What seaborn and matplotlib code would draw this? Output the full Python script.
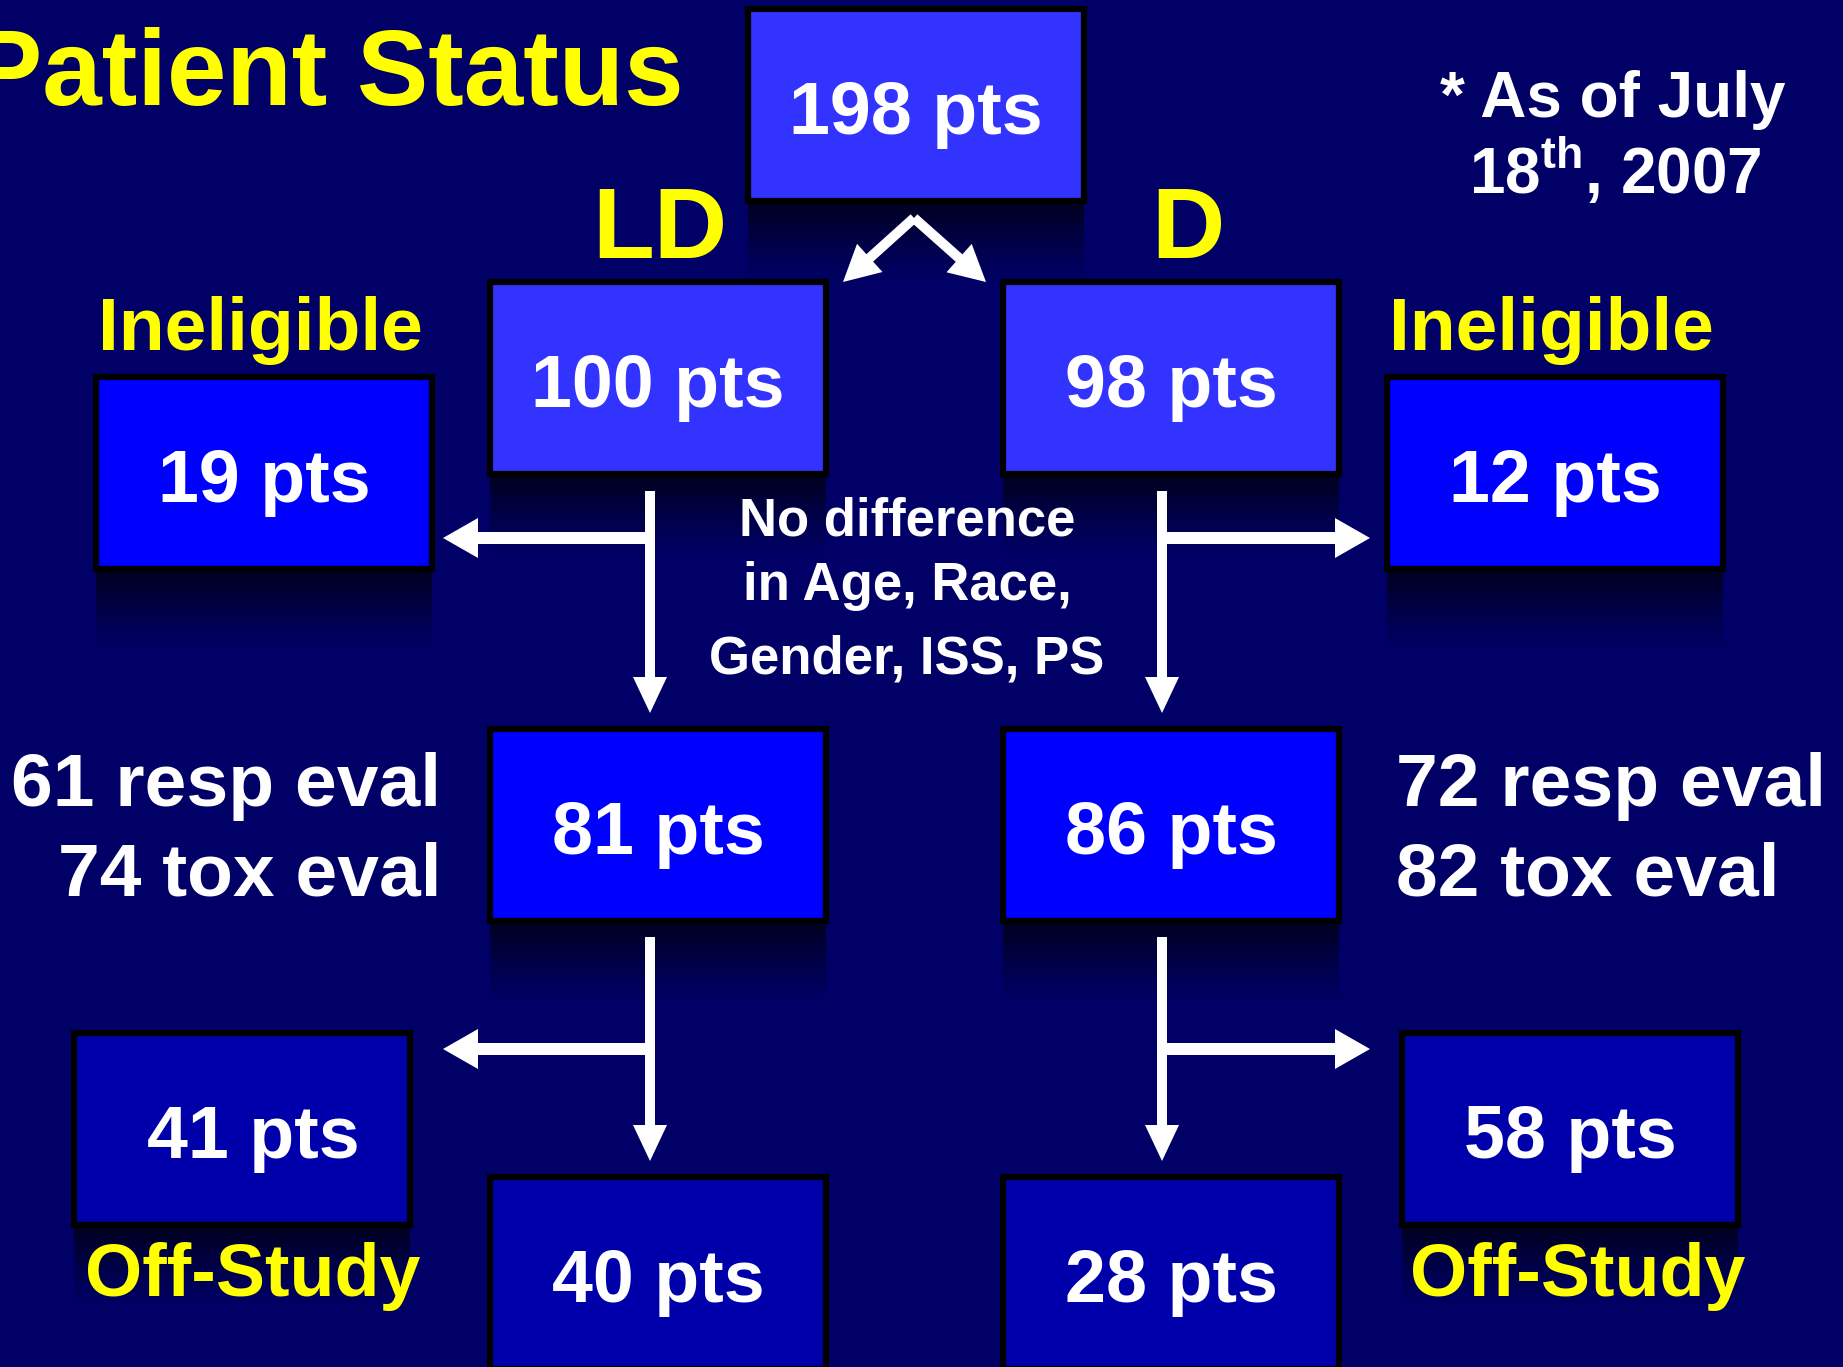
import matplotlib
matplotlib.use("Agg")
import matplotlib.pyplot as plt
import seaborn as sns
import numpy as np
from matplotlib.patches import Rectangle, Polygon

# ---------------- data ----------------
title = "Patient Status"
total_pts = [198]
arms = ["LD", "D"]
enrolled = [100, 98]
ineligible = [19, 12]
treated = [81, 86]
resp_eval = [61, 72]
tox_eval = [74, 82]
off_study = [41, 58]
on_study = [40, 28]
note_lines = ["* As of July", r"18$^{\mathrm{th}}$, 2007"]
balance_note = ["No difference", "in Age, Race,", "Gender, ISS, PS"]
ineligible_label = "Ineligible"
offstudy_label = "Off-Study"

# ---------------- style ----------------
BG = "#000066"
LIGHT = "#3333FF"
MID = "#0000FF"
DARK = "#0000AA"
YEL = "#FFFF00"
WHITE = "#FFFFFF"

sns.set_theme(style="dark", rc={"axes.facecolor": BG, "figure.facecolor": BG})
plt.rcParams["font.family"] = ["Liberation Sans", "DejaVu Sans"]
plt.rcParams["mathtext.fontset"] = "custom"
plt.rcParams["mathtext.rm"] = "Liberation Sans:bold"
plt.rcParams["mathtext.bf"] = "Liberation Sans:bold"

W, H = 1843, 1367
fig = plt.figure(figsize=(W / 100, H / 100), dpi=100)
ax = fig.add_axes([0, 0, 1, 1])
ax.set_facecolor(BG)
ax.set_xlim(0, W)
ax.set_ylim(H, 0)
ax.axis("off")

# ---------------- layout (pixel space) ----------------
BOXW, BOXH = 336, 192
pos_total = (748, 9)
pos_enrolled = [(490, 282), (1003, 282)]
pos_inelig = [(96, 377), (1387, 377)]
pos_treated = [(490, 729), (1003, 729)]
pos_off = [(74, 1033), (1402, 1033)]
pos_on = [(490, 1177), (1003, 1177)]

grad = np.zeros((120, 1, 4))
t = np.linspace(0, 1, 120)
grad[:, 0, 3] = 0.72 * (1 - t) ** 1.3


def draw_box(left, top, color, label, text_dx=0, base_off=125, fs=53):
    ax.imshow(grad, extent=(left, left + BOXW, top + BOXH + 85, top + BOXH),
              origin="upper", aspect="auto", zorder=1, interpolation="bilinear")
    ax.add_patch(Rectangle((left, top), BOXW, BOXH, facecolor=color,
                           edgecolor="black", linewidth=4.5, zorder=3))
    ax.text(left + BOXW / 2 + text_dx, top + base_off, f"{label} pts", color=WHITE,
            fontsize=fs, fontweight="bold", ha="center", va="baseline", zorder=6)


def arrow(x0, y0, x1, y1, lw_px, hl, hw):
    dx, dy = x1 - x0, y1 - y0
    L = np.hypot(dx, dy)
    ux, uy = dx / L, dy / L
    bx, by = x1 - ux * hl, y1 - uy * hl
    ax.plot([x0, bx + ux * 2], [y0, by + uy * 2], color=WHITE, lw=lw_px * 0.72,
            solid_capstyle="butt", zorder=4)
    px, py = -uy, ux
    tri = [(x1, y1), (bx + px * hw / 2, by + py * hw / 2), (bx - px * hw / 2, by - py * hw / 2)]
    ax.add_patch(Polygon(tri, closed=True, facecolor=WHITE, edgecolor="none", zorder=4))


draw_box(*pos_total[:2], LIGHT, total_pts[0])
for i in range(2):
    draw_box(*pos_enrolled[i], LIGHT, enrolled[i])
    draw_box(*pos_inelig[i], MID, ineligible[i])
    draw_box(*pos_treated[i], MID, treated[i])
    draw_box(*pos_off[i], DARK, off_study[i], text_dx=(11 if i == 0 else 0))
    draw_box(*pos_on[i], DARK, on_study[i])

apex = (914, 218)
arrow(apex[0], apex[1], 843, 282, 10, 36, 38)
arrow(apex[0], apex[1], 986, 282, 10, 36, 38)
for vx, side_tip, hstart in [(650, 443, 655), (1162, 1370, 1157)]:
    for (ys, ye, yh) in [(491, 713, 538), (937, 1161, 1049)]:
        arrow(vx, ys, vx, ye, 10, 36, 34)
        arrow(hstart, yh, side_tip, yh, 12, 35, 40)

ax.text(684, 105, title, color=YEL, fontsize=77, fontweight="bold",
        ha="right", va="baseline", zorder=6)
ax.text(660, 258, arms[0], color=YEL, fontsize=73, fontweight="bold",
        ha="center", va="baseline", zorder=6)
ax.text(1188, 258, arms[1], color=YEL, fontsize=73, fontweight="bold",
        ha="center", va="baseline", zorder=6)
for cx in (260, 1551):
    ax.text(cx, 350, ineligible_label, color=YEL, fontsize=54, fontweight="bold",
            ha="center", va="baseline", zorder=6)
for cx in (253, 1578):
    ax.text(cx, 1296, offstudy_label, color=YEL, fontsize=53, fontweight="bold",
            ha="center", va="baseline", zorder=6)
for line, yb in zip(balance_note, (536, 600, 673)):
    ax.text(907, yb, line, color=WHITE, fontsize=38, fontweight="bold",
            ha="center", va="baseline", zorder=6)
ax.text(1613, 117, note_lines[0], color=WHITE, fontsize=46, fontweight="bold",
        ha="center", va="baseline", zorder=6)
ax.text(1615, 194, note_lines[1], color=WHITE, fontsize=46, fontweight="bold",
        ha="center", va="baseline", zorder=6)

ax.text(441, 806, f"{resp_eval[0]} resp eval", color=WHITE, fontsize=54,
        fontweight="bold", ha="right", va="baseline", zorder=6)
ax.text(441, 896, f"{tox_eval[0]} tox eval", color=WHITE, fontsize=54,
        fontweight="bold", ha="right", va="baseline", zorder=6)
ax.text(1396, 806, f"{resp_eval[1]} resp eval", color=WHITE, fontsize=54,
        fontweight="bold", ha="left", va="baseline", zorder=6)
ax.text(1396, 896, f"{tox_eval[1]} tox eval", color=WHITE, fontsize=54,
        fontweight="bold", ha="left", va="baseline", zorder=6)

ax.set_xlim(0, W)
ax.set_ylim(H, 0)
fig.savefig("out.png", dpi=100, facecolor=BG)
